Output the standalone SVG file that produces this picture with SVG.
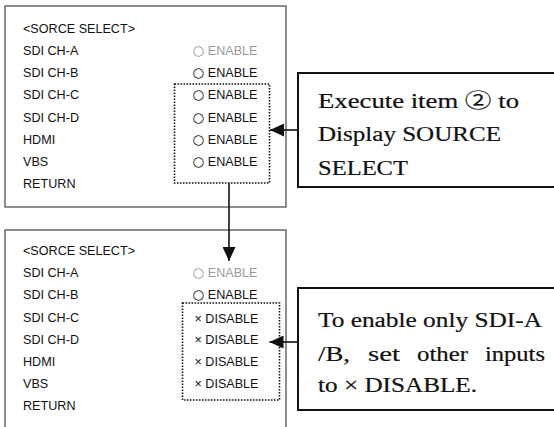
<svg xmlns="http://www.w3.org/2000/svg" width="554" height="427" viewBox="0 0 554 427">
<style>
.bg{fill:#ffffff}
.panel{fill:#ffffff;stroke:#444444;stroke-width:1.2}
.dot{fill:none;stroke:#111111;stroke-width:1.6;stroke-dasharray:1.6 1.4}
.call{fill:#ffffff;stroke:#111111;stroke-width:2}
.t{font-family:"Liberation Sans",Arial,sans-serif;font-size:12.6px;fill:#111111}
.g{fill:#9a9a9a}
.sym{font-family:"DejaVu Sans",sans-serif;font-size:13.5px}
.c{font-family:"Liberation Serif","Times New Roman","Noto Sans CJK JP",serif;font-size:20px;fill:#111111;stroke:#111111;stroke-width:0.2}
.conn{fill:none;stroke:#111111;stroke-width:1.6}
</style>
<defs>
<marker id="ah" markerUnits="userSpaceOnUse" markerWidth="15" markerHeight="13" refX="14" refY="6.5" orient="auto">
<path d="M0,0 L14,6.5 L0,13 z" fill="#111111"/>
</marker>
</defs>
<rect class="bg" x="0" y="0" width="554" height="427"/>
<g id="panel-top">
<rect class="panel" x="5" y="6" width="281" height="201"/>
<text class="t" x="23" y="33">&lt;SORCE SELECT&gt;</text>
<text class="t" x="23" y="55">SDI CH-A</text>
<text class="t" x="23" y="77">SDI CH-B</text>
<text class="t" x="23" y="99">SDI CH-C</text>
<text class="t" x="23" y="121.5">SDI CH-D</text>
<text class="t" x="23" y="144">HDMI</text>
<text class="t" x="23" y="166">VBS</text>
<text class="t" x="23" y="188">RETURN</text>
<text class="t g" x="257.5" y="55" text-anchor="end"><tspan class="sym">○</tspan> ENABLE</text>
<text class="t" x="257.5" y="77" text-anchor="end"><tspan class="sym">○</tspan> ENABLE</text>
<text class="t" x="257.5" y="99" text-anchor="end"><tspan class="sym">○</tspan> ENABLE</text>
<text class="t" x="257.5" y="121.5" text-anchor="end"><tspan class="sym">○</tspan> ENABLE</text>
<text class="t" x="257.5" y="144" text-anchor="end"><tspan class="sym">○</tspan> ENABLE</text>
<text class="t" x="257.5" y="166" text-anchor="end"><tspan class="sym">○</tspan> ENABLE</text>
<rect class="dot" x="174.5" y="84" width="95" height="99"/>
</g>
<g id="panel-bottom">
<rect class="panel" x="5" y="230" width="281" height="210"/>
<text class="t" x="23" y="255">&lt;SORCE SELECT&gt;</text>
<text class="t" x="23" y="277">SDI CH-A</text>
<text class="t" x="23" y="299">SDI CH-B</text>
<text class="t" x="23" y="322">SDI CH-C</text>
<text class="t" x="23" y="344">SDI CH-D</text>
<text class="t" x="23" y="366">HDMI</text>
<text class="t" x="23" y="388">VBS</text>
<text class="t" x="23" y="410">RETURN</text>
<text class="t g" x="257.5" y="277" text-anchor="end"><tspan class="sym">○</tspan> ENABLE</text>
<text class="t" x="257.5" y="299" text-anchor="end"><tspan class="sym">○</tspan> ENABLE</text>
<text class="t" x="258.5" y="322.5" text-anchor="end">× DISABLE</text>
<text class="t" x="258.5" y="344" text-anchor="end">× DISABLE</text>
<text class="t" x="258.5" y="366" text-anchor="end">× DISABLE</text>
<text class="t" x="258.5" y="388" text-anchor="end">× DISABLE</text>
<rect class="dot" x="182.5" y="303" width="97" height="97"/>
</g>
<g id="callout-top">
<rect class="call" x="298" y="73" width="270" height="114"/>
<text class="c" x="318" y="108" textLength="201" lengthAdjust="spacingAndGlyphs">Execute item ② to</text>
<text class="c" x="318" y="141" textLength="183" lengthAdjust="spacingAndGlyphs">Display SOURCE</text>
<text class="c" x="318" y="175" textLength="90" lengthAdjust="spacingAndGlyphs">SELECT</text>
</g>
<g id="callout-bottom">
<rect class="call" x="298" y="288" width="270" height="122"/>
<text class="c" x="318" y="327" textLength="224" lengthAdjust="spacingAndGlyphs">To enable only SDI-A</text>
<text class="c" y="361"><tspan x="318" textLength="32" lengthAdjust="spacingAndGlyphs">/B,</tspan> <tspan x="368" textLength="32" lengthAdjust="spacingAndGlyphs">set</tspan> <tspan x="417" textLength="51" lengthAdjust="spacingAndGlyphs">other</tspan> <tspan x="485" textLength="60" lengthAdjust="spacingAndGlyphs">inputs</tspan></text>
<text class="c" x="318" y="392" textLength="159" lengthAdjust="spacingAndGlyphs">to × DISABLE.</text>
</g>
<g id="connectors">
<line class="conn" x1="229" y1="183" x2="229" y2="261" marker-end="url(#ah)"/>
<line class="conn" x1="298" y1="130" x2="270" y2="130" marker-end="url(#ah)"/>
<line class="conn" x1="298" y1="342" x2="269.5" y2="342" marker-end="url(#ah)"/>
</g>
</svg>
